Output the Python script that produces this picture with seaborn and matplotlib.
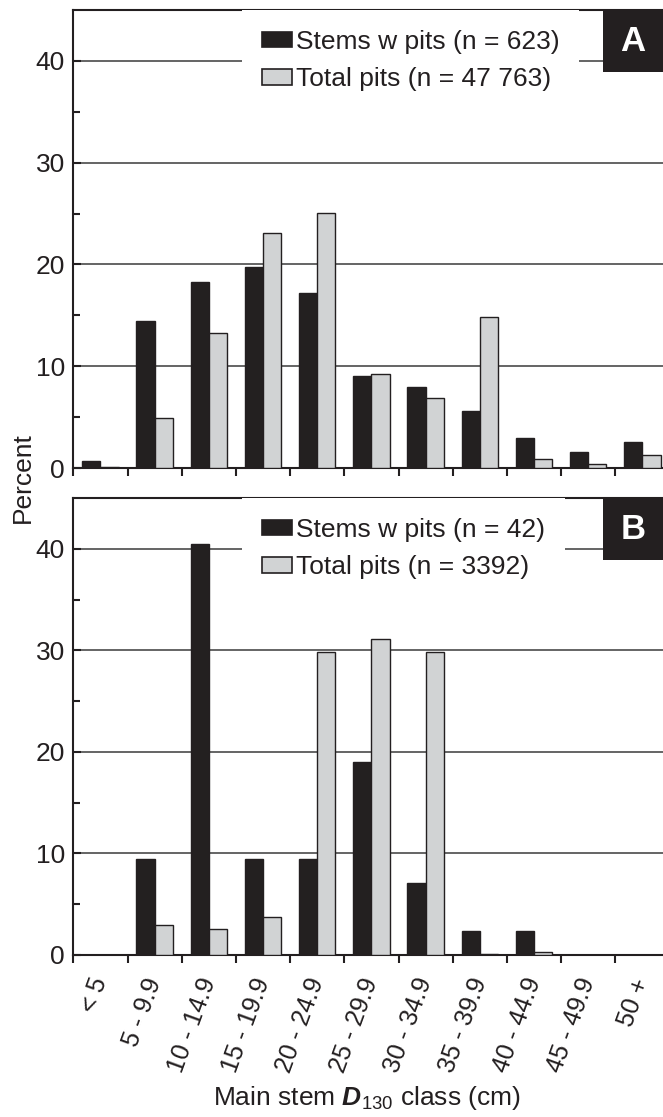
import numpy as np
import pandas as pd
import matplotlib
matplotlib.use('Agg')
import matplotlib.pyplot as plt
import seaborn as sns
from matplotlib.patches import Rectangle
from matplotlib.ticker import MultipleLocator, FixedLocator

classes = ['< 5', '5 - 9.9', '10 - 14.9', '15 - 19.9', '20 - 24.9', '25 - 29.9',
           '30 - 34.9', '35 - 39.9', '40 - 44.9', '45 - 49.9', '50 +']
a_stems = [0.7, 14.4, 18.3, 19.7, 17.2, 9.0, 8.0, 5.6, 2.9, 1.6, 2.6]
a_pits = [0.1, 4.9, 13.3, 23.1, 25.1, 9.2, 6.9, 14.8, 0.9, 0.35, 1.3]
b_stems = [0, 9.5, 40.5, 9.5, 9.5, 19.0, 7.1, 2.4, 2.4, 0, 0]
b_pits = [0, 3.0, 2.6, 3.7, 29.8, 31.1, 29.8, 0.1, 0.3, 0, 0]
a_labels = ['Stems w pits (n = 623)', 'Total pits (n = 47 763)']
b_labels = ['Stems w pits (n = 42)', 'Total pits (n = 3392)']
panel_letters = ['A', 'B']

DARK = '#231f20'
GREY = '#d1d3d4'

sns.set_style('white')
plt.rcParams['font.family'] = ['Liberation Sans', 'DejaVu Sans']
plt.rcParams['mathtext.fontset'] = 'custom'
plt.rcParams['mathtext.rm'] = 'Liberation Sans'
plt.rcParams['mathtext.it'] = 'Liberation Sans:italic'
plt.rcParams['mathtext.bf'] = 'Liberation Sans:italic:bold'

W, H = 663, 1117
fig = plt.figure(figsize=(W / 100, H / 100), dpi=100)

left = 73.3 / W
axA = fig.add_axes([left, 1 - 468 / H, 1 - left, 458 / H])
axB = fig.add_axes([left, 1 - 955 / H, 1 - left, 457 / H])

panels = [(axA, a_stems, a_pits, a_labels), (axB, b_stems, b_pits, b_labels)]
for i, (ax, stems, pits, labels) in enumerate(panels):
    df = pd.DataFrame({
        'cls': classes * 2,
        'val': list(stems) + list(pits),
        'series': [labels[0]] * len(classes) + [labels[1]] * len(classes),
    })
    sns.barplot(data=df, x='cls', y='val', hue='series', order=classes,
                hue_order=labels, palette={labels[0]: DARK, labels[1]: GREY},
                edgecolor=DARK, linewidth=1.0, width=0.67, ax=ax, zorder=3)
    ax.set_xlim(-0.5, 10.38)
    ax.set_ylim(0, 45)
    ax.set_xlabel('')
    ax.set_ylabel('')
    ax.set_yticks([0, 10, 20, 30, 40])
    ax.yaxis.set_minor_locator(FixedLocator([5, 15, 25, 35]))
    ax.yaxis.grid(True, which='major', color='#3a3a3a', linewidth=1.1, zorder=0)
    ax.set_axisbelow(True)
    ax.tick_params(axis='y', which='major', direction='in', length=6, width=1.5,
                   color=DARK, labelsize=19, labelcolor=DARK, pad=6, left=True)
    ax.tick_params(axis='y', which='minor', direction='in', length=5, width=1.5,
                   color=DARK, left=True)
    ax.set_xticks(range(len(classes)))
    ax.xaxis.set_minor_locator(FixedLocator(np.arange(-0.5, 11, 1.0)))
    ax.tick_params(axis='x', which='major', length=0, pad=17)
    ax.tick_params(axis='x', which='minor', direction='out', length=6, width=1.5,
                   color=DARK, bottom=True)
    for side in ['left', 'bottom', 'top']:
        ax.spines[side].set_visible(True)
        ax.spines[side].set_color(DARK)
        ax.spines[side].set_linewidth(1.5)
    ax.spines['right'].set_visible(False)

    handles, lbls = ax.get_legend_handles_labels()
    leg = ax.legend(handles, lbls, loc='upper left', bbox_to_anchor=(0.286, 1.0),
                    frameon=True, facecolor='white', edgecolor='none', framealpha=1,
                    fancybox=False, fontsize=19, handlelength=1.15, handleheight=0.55,
                    handletextpad=0.15, borderaxespad=0, borderpad=0.75,
                    labelspacing=0.5)
    leg.set_zorder(10)
    for t in leg.get_texts():
        t.set_color(DARK)
    for h in leg.legend_handles:
        h.set_edgecolor(DARK)
        h.set_linewidth(1.2)

    ax.add_patch(Rectangle((0.898, 0.865), 0.102, 0.135, transform=ax.transAxes,
                           facecolor=DARK, edgecolor='none', zorder=12, clip_on=False))
    ax.text(0.949, 0.932, panel_letters[i], transform=ax.transAxes, ha='center',
            va='center', color='white', fontsize=25, fontweight='bold', zorder=13)

axA.set_xticklabels([])
axB.set_xticklabels(classes, rotation=70, ha='right', va='center',
                    rotation_mode='anchor', fontsize=18, color=DARK)

fig.text(0.034, 1 - 478 / H, 'Percent', rotation=90, ha='center', va='center',
         fontsize=19, color=DARK)
fig.text(0.553, 1 - 1098 / H, r'Main stem $\mathbf{D}_{\mathrm{130}}$ class (cm)',
         ha='center', va='center', fontsize=19, color=DARK)

fig.savefig('out.png', dpi=100)
